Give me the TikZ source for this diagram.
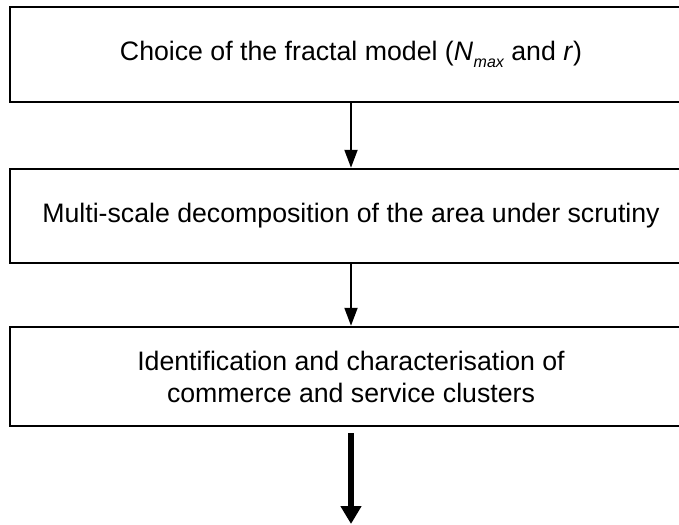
\documentclass[tikz,border=0pt]{standalone}
\usepackage{fontspec}
\setmainfont{Liberation Sans}
\usetikzlibrary{arrows.meta}
\begin{document}
\begin{tikzpicture}[x=1pt,y=-1pt,
  stepbox/.style={draw=black,line width=2.5pt,minimum width=682pt,inner sep=0pt,align=center,font=\fontsize{26.7}{32}\selectfont},
  thinarrow/.style={line width=2pt,-{Triangle[length=18pt,width=13pt]}},
  thickarrow/.style={line width=5.5pt,-{Triangle[length=18pt,width=20pt]}}]
\clip (0,0) rectangle (679,524);
\useasboundingbox (0,0) rectangle (679,524);
\node[stepbox,minimum height=95pt] (b1) at (351,54.5) {Choice of the fractal model (\textit{N\kern0.02em\raisebox{-0.45ex}{\fontsize{16}{16}\selectfont max}} and \textit{r})};
\node[stepbox,minimum height=94pt] (b2) at (351,216) {Multi-scale decomposition of the area under scrutiny};
\node[stepbox,minimum height=99pt] (b3) at (351,376.5) {Identification and characterisation of\\commerce and service clusters};
\coordinate (end) at (351,524);
\draw[thinarrow] (b1.south) -- (b2.north);
\draw[thinarrow] (b2.south) -- (b3.north);
\draw[thickarrow,shorten <=6pt] (b3.south) -- (end);
\end{tikzpicture}
\end{document}
